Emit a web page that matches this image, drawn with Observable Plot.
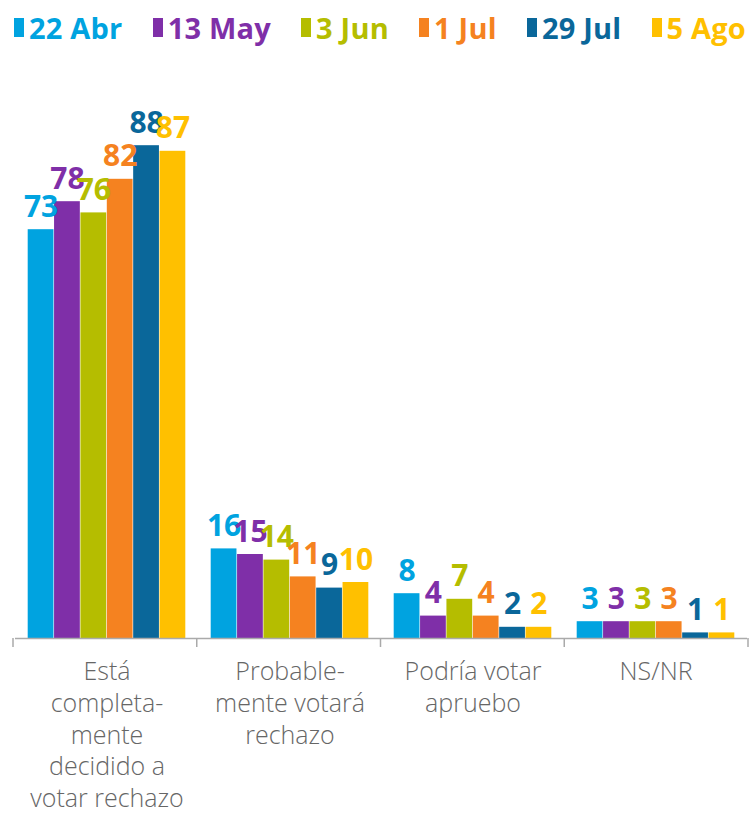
<!DOCTYPE html>
<html>
<head>
<meta charset="utf-8">
<script src="https://cdn.jsdelivr.net/npm/d3@7"></script>
<script src="https://cdn.jsdelivr.net/npm/@observablehq/plot@0.6"></script>
<style>
  body { margin: 0; background: #fff; font-family: "Open Sans", sans-serif; }
  #legend { display: flex; justify-content: space-between; height: 55px; align-items: center; padding: 0 4px 0 14px; box-sizing: border-box; width: 750px; }
  .item { display: flex; align-items: center; font-weight: 700; font-size: 29px; letter-spacing: 0.2px; }
  .sw { width: 10px; height: 19px; margin-right: 5px; }
</style>
</head>
<body>
<div id="legend"></div>
<div id="chart"></div>
<script>
const categories = ["Está completamente decidido a votar rechazo", "Probablemente votará rechazo", "Podría votar apruebo", "NS/NR"];
const categoryLabels = ["Está\ncompleta-\nmente\ndecidido a\nvotar rechazo", "Probable-\nmente votará\nrechazo", "Podría votar\napruebo", "NS/NR"];
const series = ["22 Abr", "13 May", "3 Jun", "1 Jul", "29 Jul", "5 Ago"];
const colors = ["#00A3E0", "#7F2FA8", "#B5BD00", "#F58220", "#0A679A", "#FFC000"];
const values22Abr = [73, 16, 8, 3];
const values13May = [78, 15, 4, 3];
const values3Jun = [76, 14, 7, 3];
const values1Jul = [82, 11, 4, 3];
const values29Jul = [88, 9, 2, 1];
const values5Ago = [87, 10, 2, 1];
const seriesValues = [values22Abr, values13May, values3Jun, values1Jul, values29Jul, values5Ago];

const data = [];
categories.forEach((c, i) => series.forEach((s, j) => data.push({cat: c, series: s, value: seriesValues[j][i]})));

// legend
const legend = document.getElementById("legend");
series.forEach((s, j) => {
  const it = document.createElement("div");
  it.className = "item";
  it.style.color = colors[j];
  it.innerHTML = `<span class="sw" style="background:${colors[j]}"></span>${s}`;
  legend.appendChild(it);
});

const W = 750, H = 759;
const plot = Plot.plot({
  width: W,
  height: H,
  marginTop: 23,
  marginBottom: 176,
  marginLeft: 13,
  marginRight: 2,
  style: {fontFamily: "Open Sans, sans-serif", background: "#fff"},
  fx: {domain: categories, padding: 0, label: null},
  x: {domain: series, paddingInner: 0, paddingOuter: 0.47, round: false, axis: null},
  y: {domain: [0, 100], axis: null},
  color: {domain: series, range: colors},
  marks: [
    Plot.barY(data, {fx: "cat", x: "series", y: "value", fill: "series", insetLeft: 0.3, insetRight: 0.3}),
    Plot.ruleY([0], {stroke: "#aaa", strokeWidth: 1.5}),
    Plot.text(data, {fx: "cat", x: "series", y: "value", text: d => String(d.value), fill: "series",
      lineAnchor: "bottom", dy: -13, fontSize: 30, fontWeight: 700}),
    Plot.axisFx({anchor: "bottom", tickSize: 0, tickPadding: 19, fontSize: 25, fontWeight: 300, lineHeight: 1.27,
      fill: "#666", label: null, tickFormat: d => categoryLabels[categories.indexOf(d)]})
  ]
});
document.getElementById("chart").appendChild(plot);

// boundary ticks between categories, from the fx scale
const fx = plot.scale("fx");
const [r0, r1] = fx.range;
const step = (r1 - r0) / fx.domain.length;
const y0 = H - 176;
const svg = d3.select(plot);
for (let i = 0; i <= fx.domain.length; i++) {
  const xx = r0 + i * step;
  svg.append("line").attr("x1", xx).attr("x2", xx).attr("y1", y0).attr("y2", y0 + 9)
    .attr("stroke", "#aaa").attr("stroke-width", 1.5);
}
</script>
</body>
</html>
